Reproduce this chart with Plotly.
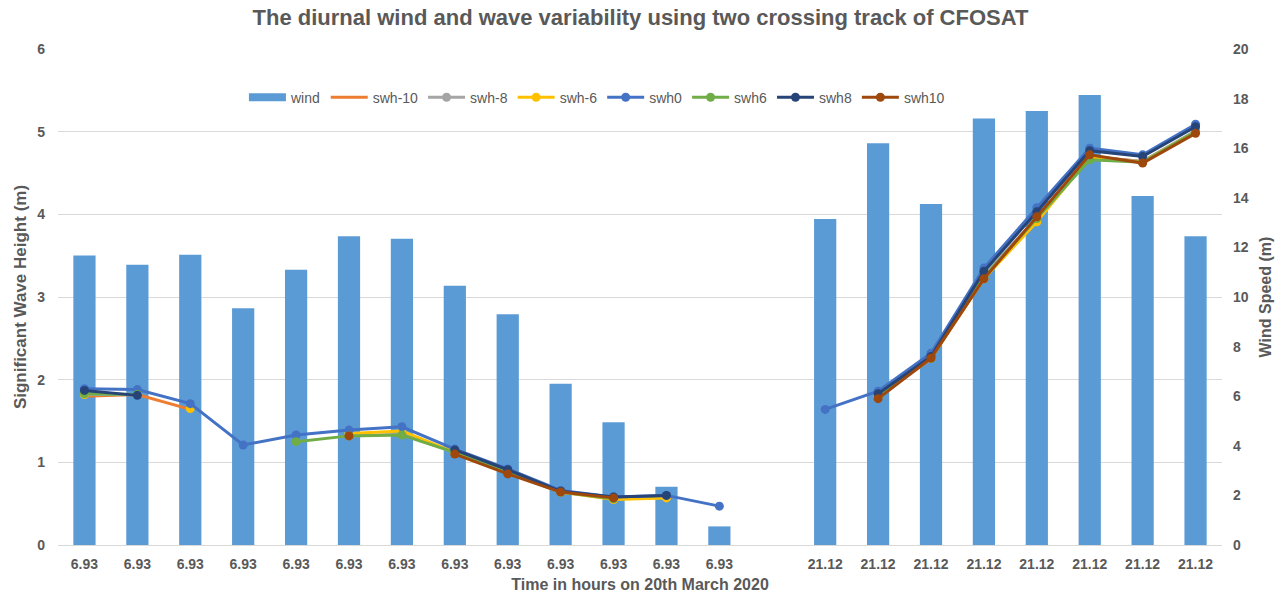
import plotly.graph_objects as go

x_labels = ["6.93"] * 13 + [""] + ["21.12"] * 8
x_pos = list(range(len(x_labels)))

wind = [11.67, 11.3, 11.7, 9.55, 11.1, 12.45, 12.35, 10.45, 9.3, 6.5, 4.95, 2.35, 0.75,
        None, 13.15, 16.2, 13.75, 17.2, 17.5, 18.15, 14.07, 12.45]

swh_m10 = [1.80, 1.82, 1.64, None, None, None, 1.33, None, None, None, None, None, None,
           None, None, 1.80, 2.25, 3.25, 3.95, 4.70, 4.64, 5.00]
swh_m8 = [1.82, 1.82, None, None, None, 1.32, 1.34, 1.12, 0.88, 0.64, 0.56, 0.58, None,
          None, None, 1.81, 2.27, 3.26, 3.96, 4.70, 4.64, 5.01]
swh_m6 = [1.82, None, 1.65, None, None, 1.35, 1.38, 1.12, 0.88, 0.64, 0.55, 0.57, None,
          None, None, 1.80, 2.26, 3.22, 3.91, 4.69, 4.63, 5.00]
swh_0 = [1.89, 1.88, 1.71, 1.21, 1.33, 1.39, 1.43, 1.16, 0.92, 0.66, 0.58, 0.60, 0.47,
         None, 1.64, 1.86, 2.32, 3.35, 4.08, 4.80, 4.72, 5.09]
swh_6 = [1.83, 1.82, None, None, 1.25, 1.32, 1.33, 1.12, 0.88, 0.64, 0.56, None, None,
         None, None, 1.80, 2.26, 3.24, 3.95, 4.66, 4.63, 5.00]
swh_8 = [1.87, 1.81, None, None, None, None, None, 1.15, 0.91, 0.65, 0.58, 0.60, None,
         None, None, 1.83, 2.28, 3.31, 4.03, 4.77, 4.70, 5.06]
swh_10 = [None, None, None, None, None, 1.32, None, 1.10, 0.86, 0.64, 0.57, None, None,
          None, None, 1.77, 2.26, 3.22, 3.97, 4.72, 4.62, 4.98]

line_series = [
    ("swh-10", swh_m10, "#ED7D31", False),
    ("swh-8", swh_m8, "#A5A5A5", True),
    ("swh-6", swh_m6, "#FFC000", True),
    ("swh0", swh_0, "#4472C4", True),
    ("swh6", swh_6, "#70AD47", True),
    ("swh8", swh_8, "#264478", True),
    ("swh10", swh_10, "#9E480E", True),
]

font_fam = "Liberation Sans, Arial, sans-serif"
gray = "#595959"
bar_color = "#5B9BD5"

fig = go.Figure()
fig.add_trace(go.Bar(x=x_pos, y=wind, name="wind", marker=dict(color=bar_color, line=dict(width=0)),
                     yaxis="y", showlegend=False))
# legend entry for wind drawn as a wide flat swatch (as in the original)
fig.add_trace(go.Scatter(x=[None], y=[None], name="wind", mode="lines", yaxis="y",
                         line=dict(color=bar_color, width=8)))
for name, vals, col, mk in line_series:
    fig.add_trace(go.Scatter(x=x_pos, y=vals, name=name, yaxis="y2",
                             mode="lines+markers" if mk else "lines",
                             line=dict(color=col, width=3),
                             marker=dict(color=col, size=9)))

fig.update_layout(
    width=1281, height=605,
    margin=dict(l=58, r=59, t=49, b=60),
    paper_bgcolor="white", plot_bgcolor="white",
    font=dict(family=font_fam, color=gray, size=14),
    title=dict(text="<b>The diurnal wind and wave variability using two crossing track of CFOSAT</b>",
               x=0.5, xanchor="center", y=0.971, yanchor="middle",
               font=dict(size=22, color=gray, family=font_fam)),
    bargap=0.58,
    showlegend=True,
    legend=dict(orientation="h", x=0.463, xanchor="center", y=0.902, yanchor="middle",
                yref="paper",
                font=dict(size=14, color=gray), bgcolor="rgba(0,0,0,0)",
                itemwidth=37, tracegroupgap=0),
    xaxis=dict(tickmode="array", tickvals=x_pos, ticktext=[f"<b>{t}</b>" for t in x_labels],
               range=[-0.5, len(x_labels) - 0.5], showgrid=False, zeroline=False,
               showline=True, linecolor="#D9D9D9", linewidth=1, ticks="",
               ticklabelstandoff=6, automargin=False,
               tickfont=dict(size=14, color=gray),
               title=dict(text="<b>Time in hours on 20th March 2020</b>", standoff=8,
                          font=dict(size=16, color=gray))),
    yaxis=dict(side="right", range=[0, 20], tickmode="linear", tick0=0, dtick=2,
               showgrid=False, zeroline=False, showline=False, ticks="",
               tickfont=dict(size=14, color=gray), automargin=False,
               ticklabelstandoff=10,
               tickprefix="<b>", ticksuffix="</b>",
               title=dict(text="<b>Wind Speed (m)</b>", standoff=12, font=dict(size=16, color=gray))),
    yaxis2=dict(side="left", overlaying="y", range=[0, 6], tickmode="linear", tick0=0, dtick=1,
                showgrid=True, gridcolor="#D9D9D9", gridwidth=1, zeroline=False, showline=False,
                ticks="", tickfont=dict(size=14, color=gray), ticklabelstandoff=12,
                automargin=False,
                tickprefix="<b>", ticksuffix="</b>",
                title=dict(text="<b>Significant Wave Height (m)</b>", standoff=6,
                           font=dict(size=17, color=gray))),
)

fig.write_html("out.html")
